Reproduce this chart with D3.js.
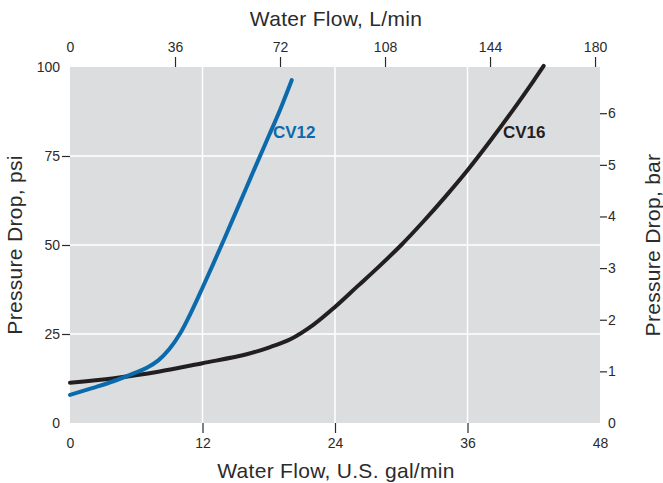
<!DOCTYPE html>
<html><head><meta charset="utf-8">
<script src="https://cdn.jsdelivr.net/npm/d3@7"></script>
<style>
body{margin:0;background:#fff;}
text{font-family:"Liberation Sans",Arial,Helvetica,sans-serif;fill:#2b2b2b;}
</style></head>
<body><svg id="c" width="663" height="483"></svg>
<script>
// Data (U.S. gal/min, psi)
const cv12Flow = [0,2,4,6,7,8,9,10,11,12,13,14,15,16,17,18,19,20.08];
const cv12Psi  = [7.9,9.8,11.8,14.2,15.6,17.6,20.8,25.3,31.3,38,44.9,51.9,59.1,66.3,73.5,80.6,87.8,96.3];
const cv16Flow = [0,4,8,12,16,18,20,22,24,26,28,30,32,34,36,38,40,42,42.9];
const cv16Psi  = [11.3,12.6,14.4,16.8,19.3,21.2,23.6,27.5,32.6,38.3,44,50,56.6,63.6,71,79,87.4,96.2,100.3];
const galTicks = [0,12,24,36,48];
const lpmTicks = [0,36,72,108,144,180];
const psiTicks = [0,25,50,75,100];
const barTicks = [0,1,2,3,4,5,6];

const L=70,R=600,T=67,B=423;
const svg=d3.select("#c");
const x=d3.scaleLinear().domain([0,48]).range([L,R]);
const xL=d3.scaleLinear().domain([0,48*3.78541]).range([L,R]);
const y=d3.scaleLinear().domain([0,100]).range([B,T]);
const yB=d3.scaleLinear().domain([0,100/14.5038]).range([B,T]);

svg.append("rect").attr("x",L).attr("y",T).attr("width",R-L).attr("height",B-T).attr("fill","#dcdddf");

// grid
svg.selectAll(".gx").data(galTicks.filter(d=>d>0&&d<48)).enter().append("line")
 .attr("x1",d=>x(d)).attr("x2",d=>x(d)).attr("y1",T).attr("y2",B).attr("stroke","#fff").attr("stroke-width",1.5);
svg.selectAll(".gy").data(psiTicks.filter(d=>d>0&&d<100)).enter().append("line")
 .attr("y1",d=>y(d)).attr("y2",d=>y(d)).attr("x1",L).attr("x2",R).attr("stroke","#fff").attr("stroke-width",1.5);

function styleAxis(g,inner){
  g.select(".domain").remove();
  g.selectAll(".tick line").attr("stroke","#2b2b2b").attr("stroke-width",1.2);
  g.selectAll(".tick text").style("font-size","14px").attr("fill","#2b2b2b");
  g.selectAll(".tick").filter(d=>inner.indexOf(d)<0).select("line").remove();
}
// bottom
const gb=svg.append("g").attr("transform",`translate(0,${B})`)
 .call(d3.axisBottom(x).tickValues(galTicks).tickSize(10).tickPadding(4));
styleAxis(gb,[12,24,36]);
gb.selectAll(".tick text").attr("dy","0.85em").attr("y",13);
// top
const gt=svg.append("g").attr("transform",`translate(0,${T})`)
 .call(d3.axisTop(xL).tickValues(lpmTicks).tickSize(10).tickPadding(4));
styleAxis(gt,[36,72,108,144,180]);
gt.selectAll(".tick text").attr("y",-15);
// left
const gl=svg.append("g").attr("transform",`translate(${L},0)`)
 .call(d3.axisLeft(y).tickValues(psiTicks).tickSize(8).tickPadding(2));
styleAxis(gl,[25,50,75]);
gl.selectAll(".tick text").attr("x",-10);
// right
const gr=svg.append("g").attr("transform",`translate(${R},0)`)
 .call(d3.axisRight(yB).tickValues(barTicks).tickFormat(d3.format("d")).tickSize(7).tickPadding(1));
styleAxis(gr,[1,2,3,4,5,6]);
gr.selectAll(".tick text").attr("x",8);

// lines
const line=d3.line().x(d=>x(d[0])).y(d=>y(d[1])).curve(d3.curveCatmullRom.alpha(0.5));
svg.append("path").datum(cv16Flow.map((f,i)=>[f,cv16Psi[i]])).attr("d",line)
 .attr("fill","none").attr("stroke","#231f20").attr("stroke-width",4).attr("stroke-linecap","round");
svg.append("path").datum(cv12Flow.map((f,i)=>[f,cv12Psi[i]])).attr("d",line)
 .attr("fill","none").attr("stroke","#0b6aab").attr("stroke-width",4).attr("stroke-linecap","round");

// series labels
svg.append("text").attr("x",273).attr("y",138).text("CV12")
 .style("font-size","17px").style("font-weight","bold").style("fill","#0b6aab");
svg.append("text").attr("x",503).attr("y",138).text("CV16")
 .style("font-size","17px").style("font-weight","bold").style("fill","#231f20");

// axis titles
const tstyle=s=>s.style("font-size","21px").style("letter-spacing","0.3px").attr("text-anchor","middle");
svg.append("text").attr("x",336).attr("y",478).call(tstyle).text("Water Flow, U.S. gal/min");
svg.append("text").attr("x",336).attr("y",26).call(tstyle).text("Water Flow, L/min");
svg.append("text").attr("transform","translate(22,245) rotate(-90)").call(tstyle).text("Pressure Drop, psi");
svg.append("text").attr("transform","translate(660,245) rotate(-90)").call(tstyle).text("Pressure Drop, bar");
</script></body></html>
